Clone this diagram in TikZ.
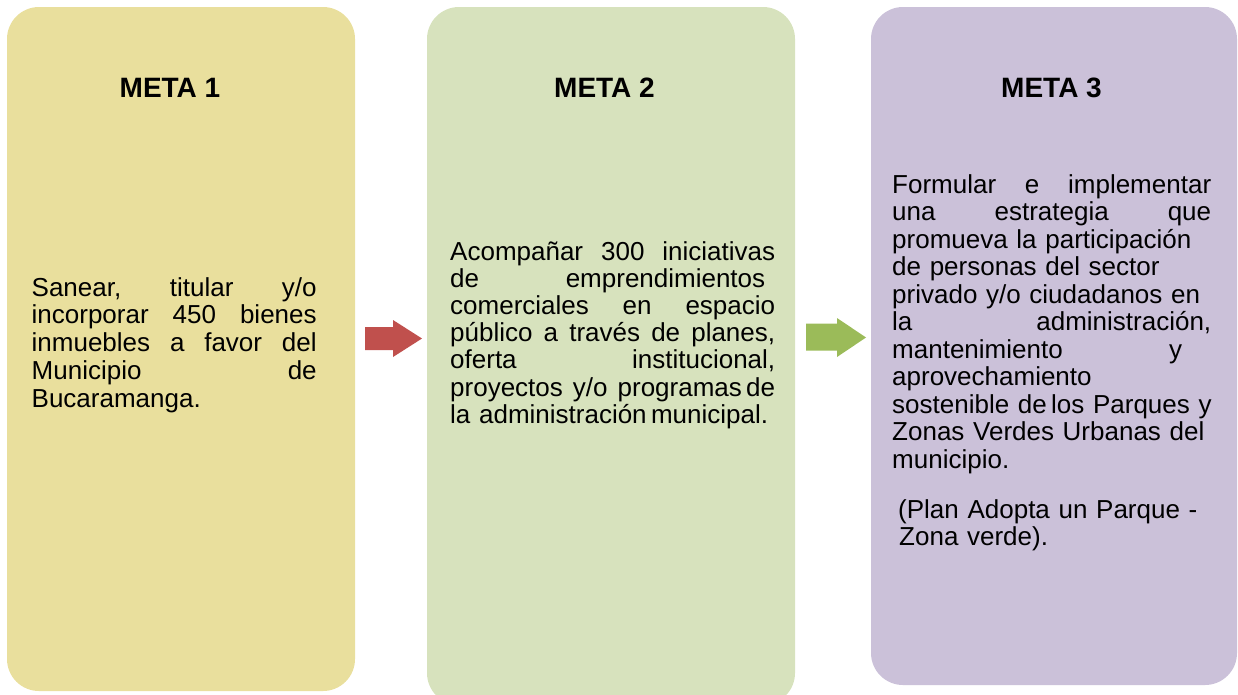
\documentclass[tikz,border=0pt]{standalone}
\usepackage{fontspec}
\setmainfont{Liberation Sans}
\definecolor{boxyellow}{HTML}{E9DF9D}
\definecolor{boxgreen}{HTML}{D7E2BD}
\definecolor{boxlilac}{HTML}{CBC1D9}
\definecolor{arrowred}{HTML}{C0504D}
\definecolor{arrowgreen}{HTML}{9BBB59}
\newcommand{\jw}[2]{\leavevmode\hbox to #1{#2}}
\begin{document}
\begin{tikzpicture}[x=1pt,y=-1pt,
  goalbox/.style={rounded corners=32pt},
  goaltitle/.style={anchor=base,inner sep=0pt,font=\fontsize{28}{32}\selectfont\bfseries},
  goaltext/.style={anchor=base west,inner sep=0pt,align=left}]
\useasboundingbox (0,0) rectangle (1238,694);
% boxes
\fill[goalbox,boxyellow] (7,7) rectangle (355,691);
\fill[goalbox,boxgreen] (427,7) rectangle (795,705);
\fill[goalbox,boxlilac] (871,7) rectangle (1237,685);
% arrows
\fill[arrowred] (365,327) -- (393,327) -- (393,320) -- (422,338.5) -- (393,357) -- (393,350) -- (365,350) -- cycle;
\fill[arrowgreen] (806,323.5) -- (837,323.5) -- (837,318) -- (866,337.5) -- (837,357) -- (837,350.5) -- (806,350.5) -- cycle;
% titles
\node[goaltitle] (t1) at (170,97) {META 1};
\node[goaltitle] (t2) at (604.5,97) {META 2};
\node[goaltitle] (t3) at (1051.5,97) {META 3};
% texts
\node[goaltext,text width=285pt,font=\fontsize{26}{27.8}\selectfont] (m1) at (31.5,296) {%
\jw{285pt}{Sanear,\hfill titular\hfill y/o}\\
\jw{285pt}{incorporar\hfill 450\hfill bienes}\\
\jw{285pt}{inmuebles\hfill a\hfill favor\hfill del}\\
\jw{285pt}{Municipio\hfill de}\\
Bucaramanga.};
\node[goaltext,text width=325pt,font=\fontsize{26}{27.2}\selectfont] (m2) at (450,260) {%
\jw{325pt}{Acompañar\hfill 300\hfill iniciativas}\\
\jw{315pt}{de\hfill emprendimientos}\\
\jw{325pt}{comerciales\hfill en\hfill espacio}\\
\jw{325pt}{público\hfill a\hfill través\hfill de\hfill planes,}\\
\jw{325pt}{oferta\hfill institucional,}\\
\jw{325pt}{proyectos\hfill y/o\hfill programas\,de}\\
la administración\,municipal.};
\node[goaltext,text width=325pt,font=\fontsize{26}{27.5}\selectfont] (m3) at (892,193) {%
\jw{319pt}{Formular\hfill e\hfill implementar}\\
\jw{319pt}{una\hfill estrategia\hfill que}\\
promueva la participación\\
de personas del sector\\
privado y/o ciudadanos en\\
\jw{319pt}{la\hfill administración,}\\
\jw{290pt}{mantenimiento\hfill y}\\
aprovechamiento\\
\mbox{sostenible de\,los Parques y}\\
Zonas Verdes Urbanas del\\
municipio.\\[22.5pt]
\hspace*{6pt}(Plan Adopta un Parque -\\
\hspace*{7pt}Zona verde).};
\end{tikzpicture}
\end{document}
